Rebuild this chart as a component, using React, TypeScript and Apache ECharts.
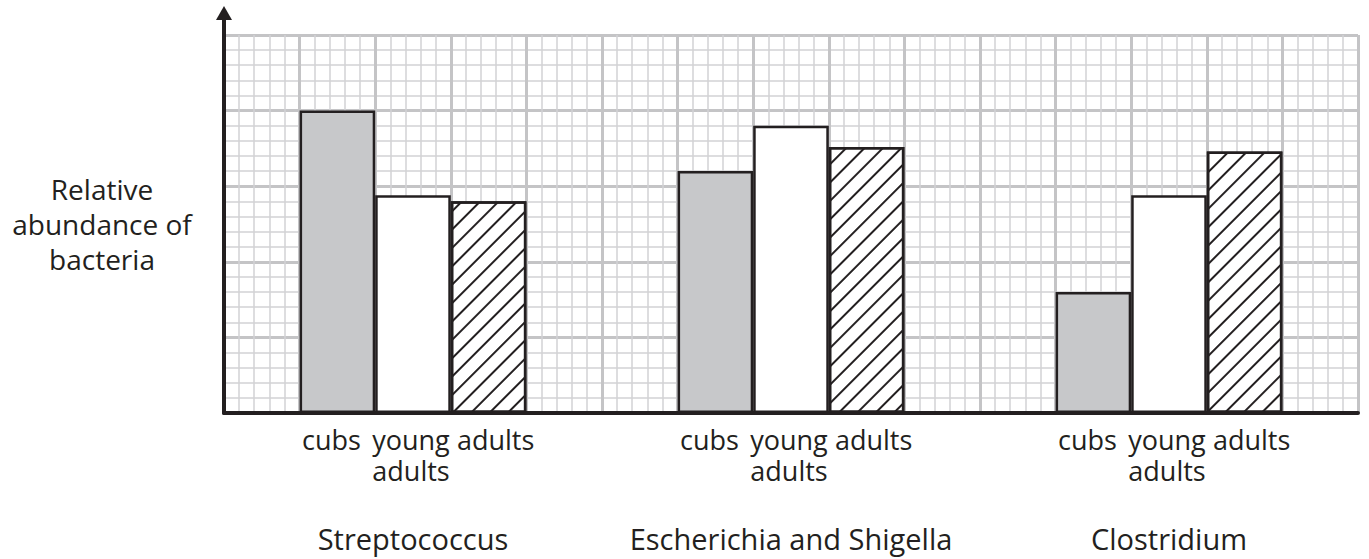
import React, { useEffect, useRef } from "react";
import * as echarts from "echarts";

const bacteria = ["Streptococcus", "Escherichia and Shigella", "Clostridium"];
const cubs = [20, 16, 8];
const youngAdults = [14.4, 19, 14.4];
const adults = [14, 17.6, 17.3];
const yTicks = { min: 0, max: 25, interval: 5, minorSplit: 5 };
const xColumns = { min: 0, max: 15, interval: 1, minorSplit: 5 };

const INK = "#231f20";
const FONT = "'Open Sans', sans-serif";

export default function App() {
  const ref = useRef<HTMLDivElement>(null);
  useEffect(() => {
    if (!ref.current) return;
    const chart = echarts.init(ref.current, null, { renderer: "svg" });
    const barLabel = (text: string, dx: number) => ({
      show: true,
      position: "bottom",
      distance: 11,
      offset: [dx, 0],
      formatter: () => text,
      fontSize: 27,
      lineHeight: 31,
      color: INK,
      fontFamily: FONT,
    });
    const border = { borderColor: INK, borderWidth: 2.5 };
    chart.setOption({
      animation: false,
      backgroundColor: "#ffffff",
      grid: { left: 224, right: 11, top: 35, bottom: 146, containLabel: false },
      xAxis: [
        {
          type: "category",
          data: bacteria,
          axisLine: { show: true, lineStyle: { color: INK, width: 4 } },
          axisTick: { show: false },
          splitLine: { show: false },
          axisLabel: { interval: 0, margin: 111, fontSize: 29, color: INK, fontFamily: FONT },
          z: 5,
        },
        {
          type: "value",
          min: xColumns.min,
          max: xColumns.max,
          interval: xColumns.interval,
          position: "bottom",
          axisLine: { show: false },
          axisTick: { show: false },
          axisLabel: { show: false },
          splitLine: { show: true, lineStyle: { color: "#c4c4c6", width: 3 } },
          minorTick: { show: false, splitNumber: xColumns.minorSplit },
          minorSplitLine: { show: true, lineStyle: { color: "#d2d2d4", width: 1.5 } },
          z: 0,
        },
      ],
      yAxis: {
        type: "value",
        min: yTicks.min,
        max: yTicks.max,
        interval: yTicks.interval,
        name: "Relative\nabundance of\nbacteria",
        nameLocation: "middle",
        nameRotate: 0,
        nameGap: 122,
        nameTextStyle: {
          align: "center",
          verticalAlign: "middle",
          fontSize: 28,
          lineHeight: 35,
          color: INK,
          fontFamily: FONT,
          padding: [6, 0, 0, 0],
        },
        axisLine: { show: true, lineStyle: { color: INK, width: 4 } },
        axisTick: { show: false },
        axisLabel: { show: false },
        splitLine: { show: true, lineStyle: { color: "#c4c4c6", width: 3 } },
        minorTick: { show: false, splitNumber: yTicks.minorSplit },
        minorSplitLine: { show: true, lineStyle: { color: "#d2d2d4", width: 1.5 } },
        z: 0,
      },
      graphic: [
        {
          type: "line",
          shape: { x1: 224, y1: 37, x2: 224, y2: 18 },
          style: { stroke: INK, lineWidth: 4 },
          z: 10,
        },
        {
          type: "polygon",
          shape: { points: [[216, 20], [232, 20], [224, 6]] },
          style: { fill: INK },
          z: 10,
        },
      ],
      series: [
        {
          name: "cubs",
          type: "bar",
          xAxisIndex: 0,
          data: cubs,
          barWidth: "20%",
          barGap: "0%",
          itemStyle: { color: "#c7c8ca", ...border },
          label: barLabel("cubs", -6),
          z: 3,
        },
        {
          name: "young adults",
          type: "bar",
          xAxisIndex: 0,
          data: youngAdults,
          barWidth: "20%",
          barGap: "0%",
          itemStyle: { color: "#ffffff", ...border },
          label: barLabel("young\nadults", -2),
          z: 3,
        },
        {
          name: "adults",
          type: "bar",
          xAxisIndex: 0,
          data: adults,
          barWidth: "20%",
          barGap: "0%",
          itemStyle: {
            color: "#ffffff",
            ...border,
            decal: {
              symbol: "rect",
              symbolSize: 1,
              dashArrayX: [1, 0],
              dashArrayY: [2, 11],
              rotation: -Math.PI / 4,
              color: INK,
            },
          },
          label: barLabel("adults", 7),
          z: 3,
        },
      ],
    });
    return () => chart.dispose();
  }, []);
  return (
    <div
      ref={ref}
      style={{ position: "absolute", left: 0, top: 0, width: 1369, height: 559 }}
    />
  );
}
